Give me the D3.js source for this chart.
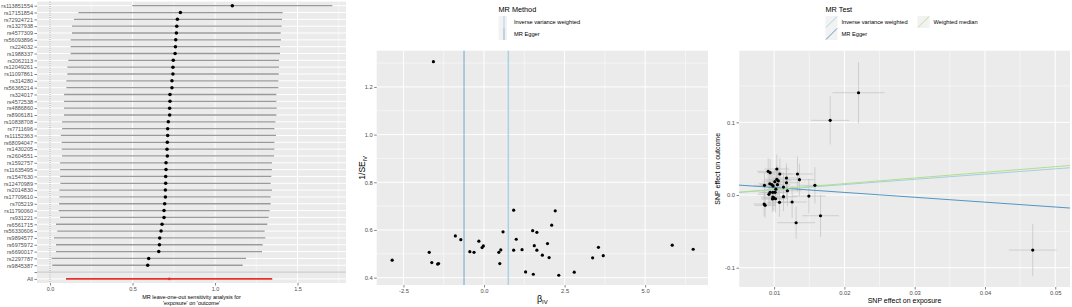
<!DOCTYPE html>
<html>
<head>
<meta charset="utf-8">
<script src="https://cdn.jsdelivr.net/npm/d3@7"></script>
<style>
  body { margin: 0; background: #fff; }
  svg { font-family: "Liberation Sans", Arial, sans-serif; }
  .tick text { fill: #4D4D4D; }
  .tick line { stroke: #333; }
  .domain { display: none; }
</style>
</head>
<body>
<div id="wide"></div>
<script>
// ---- leave-one-out data ----
const looSnps = ["rs113851554", "rs17151854", "rs72924721", "rs1327938", "rs4577309", "rs56093896",
    "rs224032", "rs1988337", "rs2062113", "rs12049261", "rs11097861", "rs314280", "rs56365214",
    "rs324017", "rs4572538", "rs4886860", "rs8906181", "rs10838708", "rs7711696", "rs11152363",
    "rs68094047", "rs1430205", "rs2604551", "rs1592757", "rs11635495", "rs1547630", "rs12470989",
    "rs2014830", "rs17709610", "rs705219", "rs11790060", "rs931221", "rs6561715", "rs56330606",
    "rs9894577", "rs6975972", "rs6690017", "rs2297787", "rs9845387", "All"];
const looB = [1.105, 0.790, 0.772, 0.768, 0.766, 0.762, 0.760, 0.758, 0.747, 0.745, 0.745, 0.739, 0.739,
    0.727, 0.727, 0.725, 0.725, 0.717, 0.713, 0.713, 0.711, 0.709, 0.711, 0.703, 0.703, 0.701, 0.701,
    0.699, 0.699, 0.695, 0.691, 0.691, 0.679, 0.673, 0.665, 0.663, 0.659, 0.598, 0.592, 0.723];
const looLo = [0.498, 0.172, 0.145, 0.133, 0.133, 0.125, 0.125, 0.125, 0.111, 0.105, 0.105, 0.099, 0.099,
    0.085, 0.085, 0.085, 0.085, 0.073, 0.073, 0.065, 0.071, 0.071, 0.073, 0.061, 0.061, 0.061, 0.063,
    0.057, 0.057, 0.055, 0.053, 0.061, 0.036, 0.044, 0.024, 0.036, 0.036, 0.010, 0.014, 0.097];
const looHi = [1.711, 1.410, 1.406, 1.404, 1.398, 1.400, 1.394, 1.394, 1.388, 1.388, 1.386, 1.384, 1.384,
    1.372, 1.372, 1.374, 1.372, 1.366, 1.360, 1.370, 1.360, 1.360, 1.358, 1.345, 1.345, 1.341, 1.337,
    1.345, 1.337, 1.337, 1.331, 1.325, 1.317, 1.301, 1.305, 1.289, 1.285, 1.188, 1.168, 1.347];
const looTicks = [0, 0.5, 1.0, 1.5];
const looTickLabels = ["0.0", "0.5", "1.0", "1.5"];

// ---- funnel data ----
const funnelB = [-2.85, -1.70, -1.62, -1.44, -1.41, -0.89, -0.72, -0.44, -0.31, -0.16, -0.06, -0.02,
    0.46, 0.52, 0.49, 0.59, 0.92, 0.92, 1.00, 1.18, 1.29, 1.51, 1.64, 1.56, 1.64, 1.53, 1.81, 1.97,
    2.02, 2.21, 2.10, 2.32, 2.80, 3.37, 3.55, 3.70, 5.84, 6.49, -1.57];
const funnelInvSe = [0.473, 0.506, 0.463, 0.457, 0.459, 0.575, 0.559, 0.509, 0.506, 0.553, 0.526, 0.533,
    0.506, 0.516, 0.459, 0.592, 0.683, 0.515, 0.561, 0.517, 0.424, 0.597, 0.590, 0.534, 0.515, 0.414,
    0.494, 0.543, 0.484, 0.680, 0.620, 0.410, 0.423, 0.483, 0.527, 0.492, 0.536, 0.519, 1.306];
const funnelMethods = ["Inverse variance weighted", "MR Egger"];
const funnelMethodB = [0.754, -0.62];
const funnelXTicks = [-2.5, 0, 2.5, 5.0];
const funnelXLabels = ["-2.5", "0.0", "2.5", "5.0"];
const funnelYTicks = [0.4, 0.6, 0.8, 1.0, 1.2];
const funnelYLabels = ["0.4", "0.6", "0.8", "1.0", "1.2"];

// ---- scatter data ----
const expB = [0.01038, 0.00915, 0.00943, 0.01081, 0.01332, 0.01360, 0.01175, 0.01038, 0.01010, 0.01175,
    0.00939, 0.00967, 0.01047, 0.00862, 0.01133, 0.01580, 0.01189, 0.00943, 0.00981, 0.01014, 0.01494,
    0.01133, 0.00981, 0.00976, 0.01019, 0.01076, 0.01256, 0.00858, 0.00872, 0.01660, 0.01313, 0.02201,
    0.01798, 0.04680, 0.00985, 0.01025, 0.00995, 0.01060, 0.00925];
const outB = [0.0358, 0.0326, 0.0307, 0.0289, 0.0289, 0.0211, 0.0234, 0.0216, 0.0183, 0.0169, 0.0155,
    0.0142, 0.0142, 0.0133, 0.0110, 0.0133, 0.0059, 0.0037, 0.0037, 0.0037, -0.0014, -0.0023, -0.0028,
    -0.0055, -0.0051, -0.0100, -0.0096, -0.0124, -0.0142, -0.0285, -0.0381, 0.1407, 0.1027, -0.0757,
    0.0125, 0.0080, -0.0040, 0.0195, 0.0010];
const expSe = [0.0018, 0.0016, 0.0017, 0.0018, 0.0022, 0.0021, 0.0020, 0.0018, 0.0017, 0.0019, 0.0016,
    0.0017, 0.0018, 0.0015, 0.0019, 0.0026, 0.0020, 0.0016, 0.0016, 0.0017, 0.0024, 0.0019, 0.0017,
    0.0016, 0.0017, 0.0018, 0.0021, 0.0015, 0.0015, 0.0026, 0.0027, 0.0037, 0.0027, 0.0034, 0.0016,
    0.0017, 0.0016, 0.0018, 0.0016];
const outSe = [0.020, 0.018, 0.019, 0.022, 0.024, 0.022, 0.020, 0.019, 0.018, 0.021, 0.017, 0.018, 0.019,
    0.017, 0.020, 0.025, 0.021, 0.018, 0.018, 0.019, 0.024, 0.020, 0.018, 0.018, 0.019, 0.020, 0.022,
    0.017, 0.017, 0.029, 0.022, 0.042, 0.033, 0.036, 0.018, 0.019, 0.018, 0.019, 0.017];
const testMethods = ["Inverse variance weighted", "MR Egger", "Weighted median"];
const testIntercept = [0, 0.0170, 0];
const testSlope = [0.72, -0.67, 0.78];
const scatterXTicks = [0.01, 0.02, 0.03, 0.04, 0.05];
const scatterXLabels = ["0.01", "0.02", "0.03", "0.04", "0.05"];
const scatterYTicks = [-0.1, 0, 0.1];
const scatterYLabels = ["-0.1", "0.0", "0.1"];

const methodColours = {
    "Inverse variance weighted": "#a6cee3",
    "MR Egger": "#1f78b4",
    "Weighted median": "#b2df8a"
};

const params = {
    width: 1072, height: 307,
    loo: { left: 37, right: 346, top: 1.6, bottom: 283, rowTop: 5.7, rowBottom: 278.9 },
    funnel: { left: 376.7, right: 708, top: 50.7, bottom: 285 },
    scatter: { left: 739, right: 1070, top: 50.7, bottom: 287 }
};

const svg = d3.select("#wide")
    .append("svg")
    .attr("width", params.width)
    .attr("height", params.height);

// grey panel with grid, ggplot style
function draw_panel(g, p, xMajor, xMinor, yMajor, yMinor, x, y) {
    g.append("rect")
        .attr("x", p.left).attr("y", p.top)
        .attr("width", p.right - p.left).attr("height", p.bottom - p.top)
        .attr("fill", "#EBEBEB");
    g.selectAll(".xminor").data(xMinor).enter().append("line")
        .attr("x1", d => x(d)).attr("x2", d => x(d))
        .attr("y1", p.top).attr("y2", p.bottom)
        .attr("stroke", "#fff").attr("stroke-width", 0.5);
    g.selectAll(".yminor").data(yMinor).enter().append("line")
        .attr("y1", d => y(d)).attr("y2", d => y(d))
        .attr("x1", p.left).attr("x2", p.right)
        .attr("stroke", "#fff").attr("stroke-width", 0.5);
    g.selectAll(".xmajor").data(xMajor).enter().append("line")
        .attr("x1", d => x(d)).attr("x2", d => x(d))
        .attr("y1", p.top).attr("y2", p.bottom)
        .attr("stroke", "#fff").attr("stroke-width", 1);
    g.selectAll(".ymajor").data(yMajor).enter().append("line")
        .attr("y1", d => y(d)).attr("y2", d => y(d))
        .attr("x1", p.left).attr("x2", p.right)
        .attr("stroke", "#fff").attr("stroke-width", 1);
}

function draw_axes(g, p, x, y, xTicks, xLabels, yTicks, yLabels, fontSize) {
    g.append("g")
        .attr("transform", `translate(0,${p.bottom})`)
        .call(d3.axisBottom(x).tickValues(xTicks).tickSize(2.5).tickPadding(1.5)
            .tickFormat((d, i) => xLabels[i]))
        .selectAll("text").attr("font-size", fontSize);
    g.append("g")
        .attr("transform", `translate(${p.left},0)`)
        .call(d3.axisLeft(y).tickValues(yTicks).tickSize(2.5).tickPadding(1.5)
            .tickFormat((d, i) => yLabels[i]))
        .selectAll("text").attr("font-size", fontSize);
    g.selectAll(".tick line").attr("stroke", "#333").attr("stroke-width", 0.6);
}

function make_loo() {
    const p = params.loo;
    const g = svg.append("g").attr("id", "loo");
    const rows = looSnps.slice(0, -1).concat([""], ["All"]);

    const x = d3.scaleLinear().domain([-0.079, 1.794]).range([p.left, p.right]);
    const y = d3.scalePoint().domain(rows).range([p.rowTop, p.rowBottom]);

    draw_panel(g, p, looTicks, [0.25, 0.75, 1.25, 1.75], [], [], x, y);
    g.selectAll(".row").data(rows).enter().append("line")
        .attr("x1", p.left).attr("x2", p.right)
        .attr("y1", d => y(d)).attr("y2", d => y(d))
        .attr("stroke", "#fff").attr("stroke-width", 1);

    // null effect and separator
    g.append("line")
        .attr("x1", x(0)).attr("x2", x(0)).attr("y1", p.top).attr("y2", p.bottom)
        .attr("stroke", "#666").attr("stroke-width", 0.6).attr("stroke-dasharray", "1,1.2");
    g.append("line")
        .attr("x1", p.left).attr("x2", p.right).attr("y1", y("")).attr("y2", y(""))
        .attr("stroke", "#bdbdbd").attr("stroke-width", 1);

    const rowsData = looSnps.map((s, i) => ({ snp: s, b: looB[i], lo: looLo[i], hi: looHi[i] }));
    g.selectAll(".ci").data(rowsData).enter().append("line")
        .attr("x1", d => x(d.lo)).attr("x2", d => x(d.hi))
        .attr("y1", d => y(d.snp)).attr("y2", d => y(d.snp))
        .attr("stroke", d => d.snp == "All" ? "#e8302a" : "#9a9a9a")
        .attr("stroke-width", d => d.snp == "All" ? 1.6 : 1.3);
    g.selectAll(".pt").data(rowsData).enter().append("circle")
        .attr("cx", d => x(d.b)).attr("cy", d => y(d.snp))
        .attr("r", d => d.snp == "All" ? 1.3 : 1.75)
        .attr("fill", d => d.snp == "All" ? "#e8302a" : "#000");

    draw_axes(g, p, x, y, looTicks, looTickLabels, rows, rows, 5.5);

    g.append("text")
        .attr("x", (p.left + p.right) / 2).attr("y", 298.5)
        .attr("text-anchor", "middle").attr("font-size", 5.5)
        .text("MR leave-one-out sensitivity analysis for");
    g.append("text")
        .attr("x", (p.left + p.right) / 2).attr("y", 304.5)
        .attr("text-anchor", "middle").attr("font-size", 5.5)
        .text("'exposure' on 'outcome'");
}

function make_funnel() {
    const p = params.funnel;
    const g = svg.append("g").attr("id", "funnel");
    const x = d3.scaleLinear().domain([-3.33, 6.95]).range([p.left, p.right]);
    const y = d3.scaleLinear().domain([0.369, 1.352]).range([p.bottom, p.top]);

    draw_panel(g, p, funnelXTicks, [-3.75, -1.25, 1.25, 3.75, 6.25], funnelYTicks, [0.5, 0.7, 0.9, 1.1, 1.3], x, y);

    g.selectAll(".mline").data(funnelMethods).enter().append("line")
        .attr("x1", (d, i) => x(funnelMethodB[i])).attr("x2", (d, i) => x(funnelMethodB[i]))
        .attr("y1", p.top).attr("y2", p.bottom)
        .attr("stroke", d => methodColours[d])
        .attr("stroke-opacity", d => d == "MR Egger" ? 0.4 : 0.9)
        .attr("stroke-width", 1.5);

    g.selectAll(".pt").data(funnelB).enter().append("circle")
        .attr("cx", d => x(d)).attr("cy", (d, i) => y(funnelInvSe[i]))
        .attr("r", 1.6).attr("fill", "#000");

    draw_axes(g, p, x, y, funnelXTicks, funnelXLabels, funnelYTicks, funnelYLabels, 5.8);

    const xt = g.append("text")
        .attr("x", (p.left + p.right) / 2).attr("y", 302)
        .attr("text-anchor", "middle").attr("font-size", 9).text("β");
    xt.append("tspan").attr("font-size", 6).attr("dy", 2).text("IV");
    const yt = g.append("text")
        .attr("transform", `translate(365,${(p.top + p.bottom) / 2}) rotate(-90)`)
        .attr("text-anchor", "middle").attr("font-size", 8.5).text("1/SE");
    yt.append("tspan").attr("font-size", 5.5).attr("dy", 2).text("IV");

    // legend
    const lg = g.append("g").attr("transform", "translate(498.5,0)");
    lg.append("text").attr("x", 0).attr("y", 12).attr("font-size", 7.3).text("MR Method");
    funnelMethods.forEach((m, i) => {
        const top = 16 + i * 12;
        lg.append("rect").attr("x", 0).attr("y", top).attr("width", 8.5).attr("height", 12).attr("fill", "#F2F2F2");
        lg.append("line").attr("x1", 5.5).attr("x2", 5.5).attr("y1", top).attr("y2", top + 12)
            .attr("stroke", methodColours[m]).attr("stroke-opacity", m == "MR Egger" ? 0.5 : 0.9).attr("stroke-width", 1);
        lg.append("text").attr("x", 15.5).attr("y", top + 8).attr("font-size", 5.7).text(m);
    });
}

function make_scatter() {
    const p = params.scatter;
    const g = svg.append("g").attr("id", "scatter");
    const x = d3.scaleLinear().domain([0.0050, 0.0521]).range([p.left, p.right]);
    const y = d3.scaleLinear().domain([-0.1265, 0.1985]).range([p.bottom, p.top]);

    draw_panel(g, p, scatterXTicks, [0.005, 0.015, 0.025, 0.035, 0.045], scatterYTicks, [-0.05, 0.05, 0.15], x, y);

    svg.append("clipPath").attr("id", "scatter-clip")
        .append("rect").attr("x", p.left).attr("y", p.top)
        .attr("width", p.right - p.left).attr("height", p.bottom - p.top);

    const pts = expB.map((b, i) => ({ bx: b, by: outB[i], sx: expSe[i], sy: outSe[i] }));
    const bars = g.append("g").attr("clip-path", "url(#scatter-clip)");
    bars.selectAll(".ev").data(pts).enter().append("line")
        .attr("x1", d => x(d.bx)).attr("x2", d => x(d.bx))
        .attr("y1", d => y(d.by - d.sy)).attr("y2", d => y(d.by + d.sy))
        .attr("stroke", "#c2c2c2").attr("stroke-width", 0.7);
    bars.selectAll(".eh").data(pts).enter().append("line")
        .attr("y1", d => y(d.by)).attr("y2", d => y(d.by))
        .attr("x1", d => x(d.bx - d.sx)).attr("x2", d => x(d.bx + d.sx))
        .attr("stroke", "#c2c2c2").attr("stroke-width", 0.7);

    bars.selectAll(".fit").data(testMethods).enter().append("line")
        .attr("x1", p.left).attr("x2", p.right)
        .attr("y1", (d, i) => y(testIntercept[i] + testSlope[i] * x.invert(p.left)))
        .attr("y2", (d, i) => y(testIntercept[i] + testSlope[i] * x.invert(p.right)))
        .attr("stroke", d => methodColours[d])
        .attr("stroke-opacity", d => d == "MR Egger" ? 0.75 : 1)
        .attr("stroke-width", 1);

    g.selectAll(".pt").data(pts).enter().append("circle")
        .attr("cx", d => x(d.bx)).attr("cy", d => y(d.by))
        .attr("r", 1.6).attr("fill", "#000");

    draw_axes(g, p, x, y, scatterXTicks, scatterXLabels, scatterYTicks, scatterYLabels, 5.8);

    g.append("text")
        .attr("x", (p.left + p.right) / 2).attr("y", 303)
        .attr("text-anchor", "middle").attr("font-size", 7).text("SNP effect on exposure");
    g.append("text")
        .attr("transform", `translate(720,${(p.top + p.bottom) / 2}) rotate(-90)`)
        .attr("text-anchor", "middle").attr("font-size", 7).text("SNP effect on outcome");

    // legend
    const lg = g.append("g").attr("transform", "translate(825.5,0)");
    lg.append("text").attr("x", 0).attr("y", 12).attr("font-size", 7.3).text("MR Test");
    const keyPos = [[0, 16], [0, 28], [92, 16]];
    testMethods.forEach((m, i) => {
        const [kx, ky] = keyPos[i];
        lg.append("rect").attr("x", kx).attr("y", ky).attr("width", 12).attr("height", 12).attr("fill", "#F2F2F2");
        lg.append("line").attr("x1", kx + 0.5).attr("x2", kx + 11.5).attr("y1", ky + 11.5).attr("y2", ky + 0.5)
            .attr("stroke", methodColours[m]).attr("stroke-opacity", m == "MR Egger" ? 0.8 : 1).attr("stroke-width", 0.9);
        lg.append("text").attr("x", kx + 16).attr("y", ky + 8).attr("font-size", 5.7).text(m);
    });
}

make_loo();
make_funnel();
make_scatter();
</script>
</body>
</html>
